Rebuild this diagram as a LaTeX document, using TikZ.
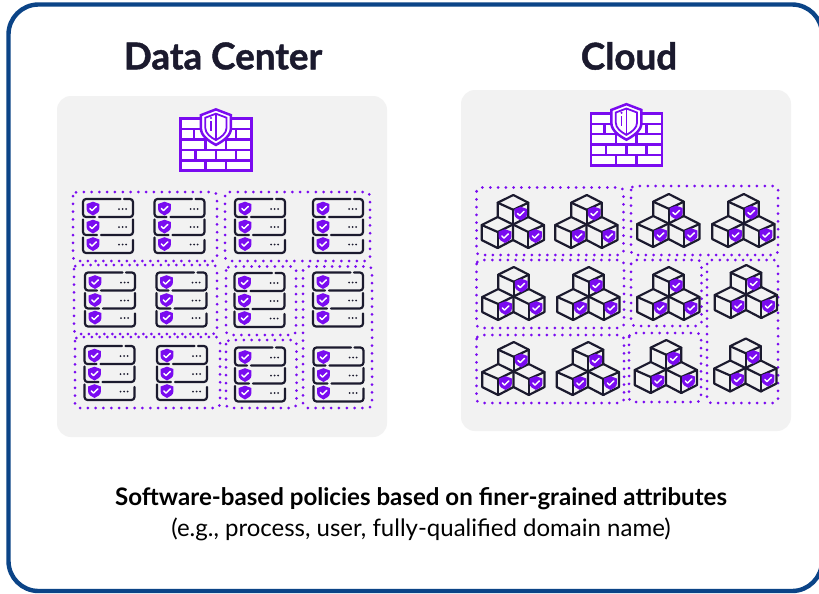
\documentclass[tikz,border=0pt]{standalone}
\usepackage{fontspec}
\setmainfont{Lato}
\newfontfamily\titlefont[BoldFeatures={FakeBold=1.2}]{Lato}
\definecolor{frameblue}{HTML}{0B4487}
\definecolor{panelgray}{HTML}{F2F2F2}
\definecolor{vio}{HTML}{7A0BF0}
\definecolor{ink}{HTML}{1B1A2E}
\tikzset{
  dotbox/.style={draw=vio,line width=3pt,line cap=round,dash pattern=on 0pt off 7.8pt,rounded corners=4pt},
  inkline/.style={draw=ink,line width=2.2pt,line cap=round,line join=round},
  serverline/.style={inkline,rounded corners=3pt},
  fwline/.style={draw=vio,line width=2.5pt,line join=miter},
  title/.style={font=\titlefont\fontsize{36.8}{40}\selectfont\bfseries,text=ink,inner sep=0pt,anchor=center},
}
% small shield with tick, centred on (#1,#2)
\newcommand{\badge}[2]{%
  \begin{scope}[shift={(#1,#2)}]
    \fill[vio] (0,-6.8) -- (6.4,-4.5) -- (6.4,0.5) .. controls (6.4,3.8) and (3,5.6) .. (0,7) .. controls (-3,5.6) and (-6.4,3.8) .. (-6.4,0.5) -- (-6.4,-4.5) -- cycle;
    \draw[white,line width=1.5pt,line cap=round,line join=round] (-3.2,0) -- (-1,2.1) -- (3.3,-2.1);
  \end{scope}}
% server stack, top-left at (#1,#2), size 50 x 54
\newcommand{\server}[2]{%
  \begin{scope}[shift={(#1,#2)}]
    \draw[serverline] (37.5,0) -- (0,0) -- (0,18) -- (12,18);
    \draw[serverline] (41,0) -- (50,0) -- (50,18) -- (16,18);
    \draw[serverline] (0,20.5) -- (0,36) -- (14,36);
    \draw[serverline] (50,20.5) -- (50,36) -- (18,36);
    \draw[serverline] (0,38.5) -- (0,54) -- (50,54) -- (50,41);
    \foreach \yy in {9.5,27.5,45}{
      \badge{10}{\yy}
      \foreach \xx in {36,39.6,43.2}{\fill[ink] (\xx,\yy+0.5) circle[radius=1];}
    }
  \end{scope}}
% three-cube cluster, top-left at (#1,#2), size 63 x 53
\newcommand{\cubes}[2]{%
  \begin{scope}[shift={(#1,#2)}]
    \draw[inkline] (16.7,22) -- (16.7,7.7) -- (32.3,0) -- (47.3,7.7) -- (47.3,22);
    \draw[inkline] (16.7,7.7) -- (32.3,14.8) -- (47.3,7.7);
    \draw[inkline] (32.3,14.8) -- (32.3,29);
    \draw[inkline] (16.7,22) -- (0.7,30) -- (0.7,45) -- (16.7,53) -- (32,45) -- (32,29.5) -- cycle;
    \draw[inkline] (0.7,30) -- (16.7,37) -- (32,29.5);
    \draw[inkline] (16.7,37) -- (16.7,53);
    \draw[inkline] (47.3,22) -- (32,29.5);
    \draw[inkline] (47.3,22) -- (63,30) -- (63,45) -- (47.3,53) -- (32,45);
    \draw[inkline] (32,29.5) -- (47.3,37) -- (63,30);
    \draw[inkline] (47.3,37) -- (47.3,53);
    \badge{39.7}{18.5}
    \badge{24}{41}
    \badge{54.5}{41}
  \end{scope}}
% firewall, top-left at (#1,#2)
\newcommand{\firewall}[2]{%
  \begin{scope}[shift={(#1,#2)},xscale=.97,yscale=.96]
    \draw[fwline,fill=white] (0,0) rectangle (73,54.4);
    \foreach \yy in {10.9,21.8,32.6,43.5}{\draw[fwline] (0,\yy) -- (73,\yy);}
    \foreach \xx in {14,57}{\draw[fwline] (\xx,10.9) -- (\xx,21.8);}
    \foreach \xx in {25.7,47}{\draw[fwline] (\xx,21.8) -- (\xx,32.6);}
    \foreach \xx in {15.7,36.7,57.3}{\draw[fwline] (\xx,32.6) -- (\xx,43.5);}
    \foreach \xx in {25.7,47}{\draw[fwline] (\xx,43.5) -- (\xx,54.4);}
    \draw[fwline,fill=white] (36.5,-9.5) -- (52,-3.5) -- (52,10) .. controls (52,18) and (44,23.5) .. (36.5,27.5) .. controls (29,23.5) and (21,18) .. (21,10) -- (21,-3.5) -- cycle;
    \draw[fwline,line width=1.8pt] (36.5,-5) -- (47.5,-0.8) -- (47.5,9.5) .. controls (47.5,15.5) and (42,19.5) .. (36.5,22.5) .. controls (31,19.5) and (25.5,15.5) .. (25.5,9.5) -- (25.5,-0.8) -- cycle;
    \draw[fwline,line width=1.8pt] (36.5,-5) -- (36.5,22.5);
    \fill[vio] (31.5,-0.5) circle[radius=1.2];
    \draw[fwline,line width=1.8pt] (31.5,3) -- (31.5,13);
  \end{scope}}
\begin{document}
\begin{tikzpicture}[x=1pt,y=-1pt]
\useasboundingbox (0,0) rectangle (819,594);
\fill[white] (0,0) rectangle (819,594);
\begin{scope}
\clip (0,0) rectangle (819,594);
\draw[frameblue,line width=4.4pt,rounded corners=30pt] (8.5,4.5) rectangle (822,591);
\end{scope}
\fill[panelgray,rounded corners=14pt] (57,96) rectangle (387,437);
\fill[panelgray,rounded corners=14pt] (461,90) rectangle (791,431);
\node[title] (dctitle) at (223,56) {Data Center};
\node[title] (cloudtitle) at (629,56) {Cloud};
\firewall{180.5}{118.5}
\firewall{591}{113.3}
% data-centre zones
\draw[dotbox] (73,192) rectangle (217,261);
\draw[dotbox] (225,192) rectangle (370,261);
\draw[dotbox] (74,265) rectangle (217,334);
\draw[dotbox] (75,337) rectangle (220,408);
\draw[dotbox] (226,266.5) rectangle (296,335);
\draw[dotbox] (226,340) rectangle (296.5,408);
\draw[dotbox] (303,266.5) rectangle (372,408);
% cloud zones
\draw[dotbox] (476.5,187.5) rectangle (623.5,255);
\draw[dotbox] (631,186) rectangle (778,255);
\draw[dotbox] (476.5,260) rectangle (624,328);
\draw[dotbox] (476.5,335) rectangle (624,403);
\draw[dotbox] (631,260) rectangle (701.5,326);
\draw[dotbox] (629,333) rectangle (701,402);
\draw[dotbox] (707,260) rectangle (778,403);
% servers
\server{83}{199}\server{154.5}{199}\server{235}{199}\server{313}{199}
\server{85}{272.5}\server{156.5}{272.5}\server{234.5}{273}\server{313}{272.5}
\server{84.5}{346}\server{157}{346}\server{235}{347.5}\server{313.5}{347.5}
% cubes
\cubes{481}{195}\cubes{554.5}{195}\cubes{636.5}{194}\cubes{711.5}{194}
\cubes{481.5}{267}\cubes{556.5}{267}\cubes{636.5}{267}\cubes{714}{265}
\cubes{481.5}{342}\cubes{556}{342}\cubes{634}{340}\cubes{713.5}{338.5}
\node[font=\fontsize{24.1}{28}\selectfont\bfseries,text=black,inner sep=0pt] (line1) at (421,499) {Software-based policies based on finer-grained attributes};
\node[font=\fontsize{24}{28}\selectfont,text=black,inner sep=0pt] (line2) at (421,529) {(e.g., process, user, fully-qualified domain name)};
\end{tikzpicture}
\end{document}
